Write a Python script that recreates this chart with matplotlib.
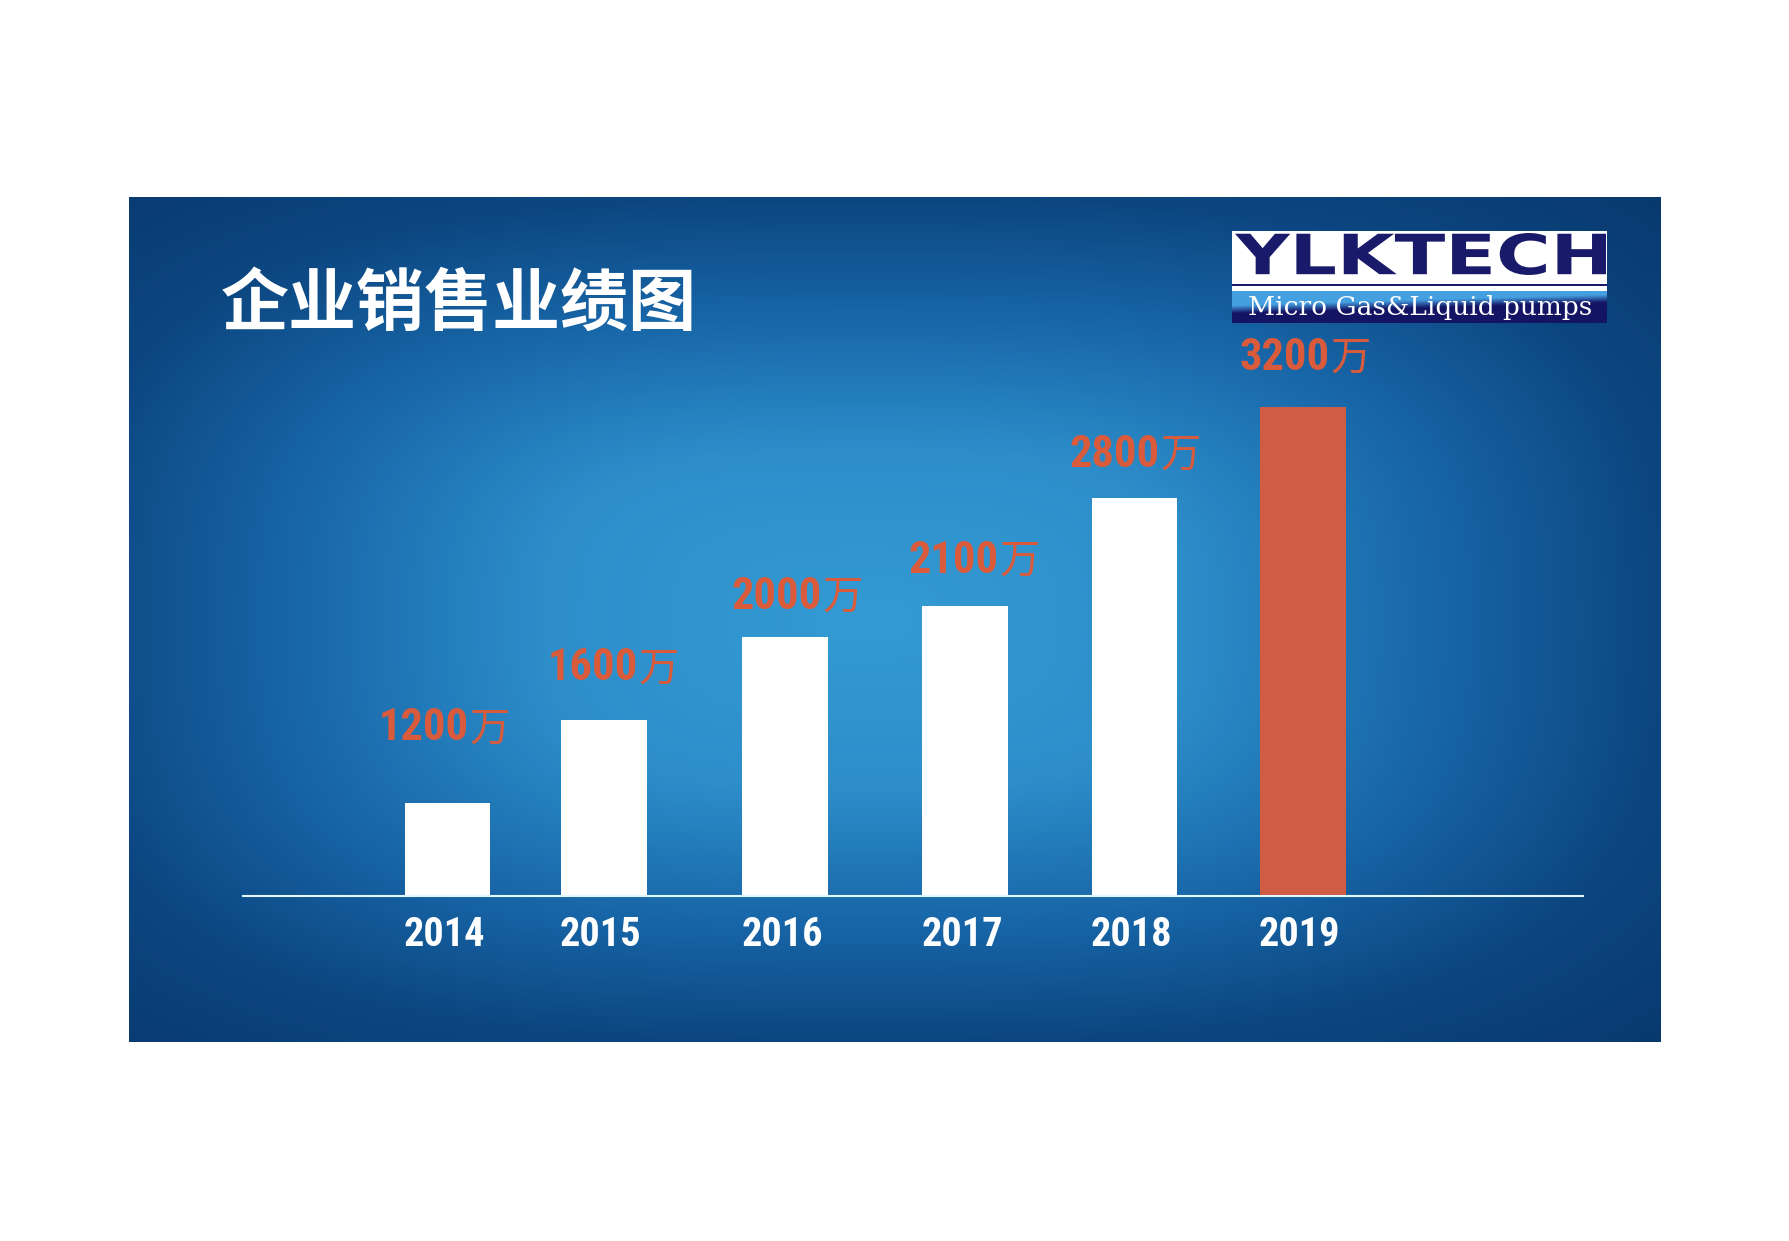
import numpy as np
import matplotlib
matplotlib.use("Agg")
import matplotlib.pyplot as plt
from matplotlib import font_manager
from matplotlib.font_manager import FontProperties
from matplotlib.textpath import TextPath
from matplotlib.patches import PathPatch, Rectangle
from matplotlib.transforms import Affine2D

# -------------------------
# Data
# -------------------------
years = ["2014", "2015", "2016", "2017", "2018", "2019"]
sales = [1200, 1600, 2000, 2100, 2800, 3200]          # label values (万)
bar_heights = [93.5, 175.8, 258.9, 290.0, 397.9, 488.9]  # drawn bar heights
title = "企业销售业绩图"
unit = "万"
logo_name = "YLKTECH"
logo_sub = "Micro Gas&Liquid pumps"

# -------------------------
# Layout / style
# -------------------------
W, H = 1790, 1241
x_pos = [204.5, 360.8, 542.0, 722.2, 891.7, 1059.8]   # bar centres inside plot area
bar_w = 85.5
label_shift = [21, 34, 37, 33, 25, 27]
label_lift = [62, 40, 28, 33, 31, 37]
bar_colors = ["white"] * 5 + ["#cf5c43"]
label_color = "#d95b3c"
navy = "#1a1a6a"
cjk = "Noto Sans CJK SC"


def pick_condensed():
    for fam in ["Liberation Sans Narrow", "Roboto Condensed", "Open Sans Condensed"]:
        try:
            font_manager.findfont(FontProperties(family=fam), fallback_to_default=False)
            return fam, "normal"
        except Exception:
            pass
    for fam in ["Roboto", "DejaVu Sans", "Open Sans"]:
        try:
            p = font_manager.findfont(FontProperties(family=fam, stretch="condensed", weight="bold"),
                                      fallback_to_default=False)
            if "ondensed" in p:
                return fam, "condensed"
        except Exception:
            pass
    return "Liberation Sans", "normal"


cond_family, cond_stretch = pick_condensed()

fig = plt.figure(figsize=(W / 100, H / 100), dpi=100)
fig.patch.set_facecolor("white")

# -------------------------
# Panel background gradient
# -------------------------
px0, px1, py0, py1 = 129, 1661, 197, 1042
bg = fig.add_axes([px0 / W, 1 - py1 / H, (px1 - px0) / W, (py1 - py0) / H])
nx, ny = 500, 280
X, Y = np.meshgrid(np.linspace(0, 1, nx), np.linspace(0, 1, ny))
dx = (X - 0.48) / 0.52
dy = (Y - 0.50) / 0.50
r = (np.abs(dx) ** 3 + np.abs(dy) ** 3) ** (1 / 3)
stops = [0, 0.4, 0.72, 1.0, 1.3]
cols = np.array([(52, 155, 212), (45, 142, 202), (24, 102, 168), (12, 70, 128), (8, 56, 108)]) / 255
img = np.dstack([np.interp(r, stops, cols[:, k]) for k in range(3)])
bg.imshow(img, aspect="auto", extent=[0, 1, 0, 1], origin="upper", interpolation="bilinear")
bg.set_axis_off()

# -------------------------
# Bars
# -------------------------
base_y = 896
ax = fig.add_axes([243 / W, 1 - base_y / H, (1583 - 243) / W, (base_y - py0) / H])
ax.set_facecolor("none")
ax.set_xlim(0, 1340)
ax.set_ylim(0, base_y - py0)
ax.bar(x_pos, bar_heights, width=bar_w, color=bar_colors, zorder=2)
for s in ["top", "right", "left"]:
    ax.spines[s].set_visible(False)
ax.spines["bottom"].set_color("#e2f8ff")
ax.spines["bottom"].set_linewidth(1.5)
ax.spines["bottom"].set_zorder(3)
ax.set_xticks([])
ax.set_yticks([])

for i, yr in enumerate(years):
    ax.text(x_pos[i] - 3, -50.5, yr, ha="center", va="baseline", color="white",
            fontsize=29, fontweight="bold", family=cond_family, fontstretch=cond_stretch,
            clip_on=False)

for i, v in enumerate(sales):
    xs = x_pos[i] + label_shift[i]
    yb = bar_heights[i] + label_lift[i]
    ax.text(xs, yb, str(v), ha="right", va="baseline", color=label_color,
            fontsize=32, fontweight="bold", family=cond_family, fontstretch=cond_stretch)
    ax.text(xs + 1, yb - 1, unit, ha="left", va="baseline", color=label_color,
            fontsize=29, fontweight="light", family=[cjk, "DejaVu Sans"])

# -------------------------
# Overlay: title and logo (pixel coordinates)
# -------------------------
ov = fig.add_axes([0, 0, 1, 1])
ov.set_axis_off()
ov.patch.set_alpha(0)
ov.set_xlim(0, W)
ov.set_ylim(H, 0)

ov.text(221, 305, title, ha="left", va="center", color="white", fontsize=49,
        fontweight="black", family=[cjk, "DejaVu Sans"])

lx0, lx1 = 1232, 1607
ov.add_patch(Rectangle((lx0, 231), lx1 - lx0, 60, facecolor="white", edgecolor="none", zorder=4))
ov.add_patch(Rectangle((lx0, 283.5), lx1 - lx0, 2.2, facecolor=navy, edgecolor="none", zorder=5))

# lower logo band: light blue fading to navy
bx, by = np.meshgrid(np.linspace(0, 1, 200), np.linspace(0, 1, 40))
t = np.clip((by + 0.35 * bx - 0.45) / 0.25, 0, 1)
c_lo = np.array([69, 160, 225]) / 255
c_hi = np.array([20, 20, 100]) / 255
band = c_lo[None, None, :] * (1 - t[..., None]) + c_hi[None, None, :] * t[..., None]
ov.imshow(band, extent=[lx0, lx1, 323, 291], aspect="auto", origin="upper", zorder=4,
          interpolation="bilinear")
ov.set_xlim(0, W)
ov.set_ylim(H, 0)


def fit_text(s, prop, x0, x1, ytop, ybot, color):
    # logo word stretched to fill its box
    p = TextPath((0, 0), s, size=100, prop=prop)
    e = p.get_extents()
    tr = (Affine2D().translate(-e.x0, -e.y0)
          .scale((x1 - x0) / e.width, -(ybot - ytop) / e.height)
          .translate(x0, ybot))
    ov.add_patch(PathPatch(tr.transform_path(p), facecolor=color, edgecolor="none", zorder=6))


fit_text(logo_name, FontProperties(family="DejaVu Sans", weight="bold"),
         1235, 1606, 233, 275, navy)
ov.text(1420, 308, logo_sub, ha="center", va="center", color="white", fontsize=19,
        family="DejaVu Serif", zorder=7)

fig.savefig("out.png", dpi=100)
